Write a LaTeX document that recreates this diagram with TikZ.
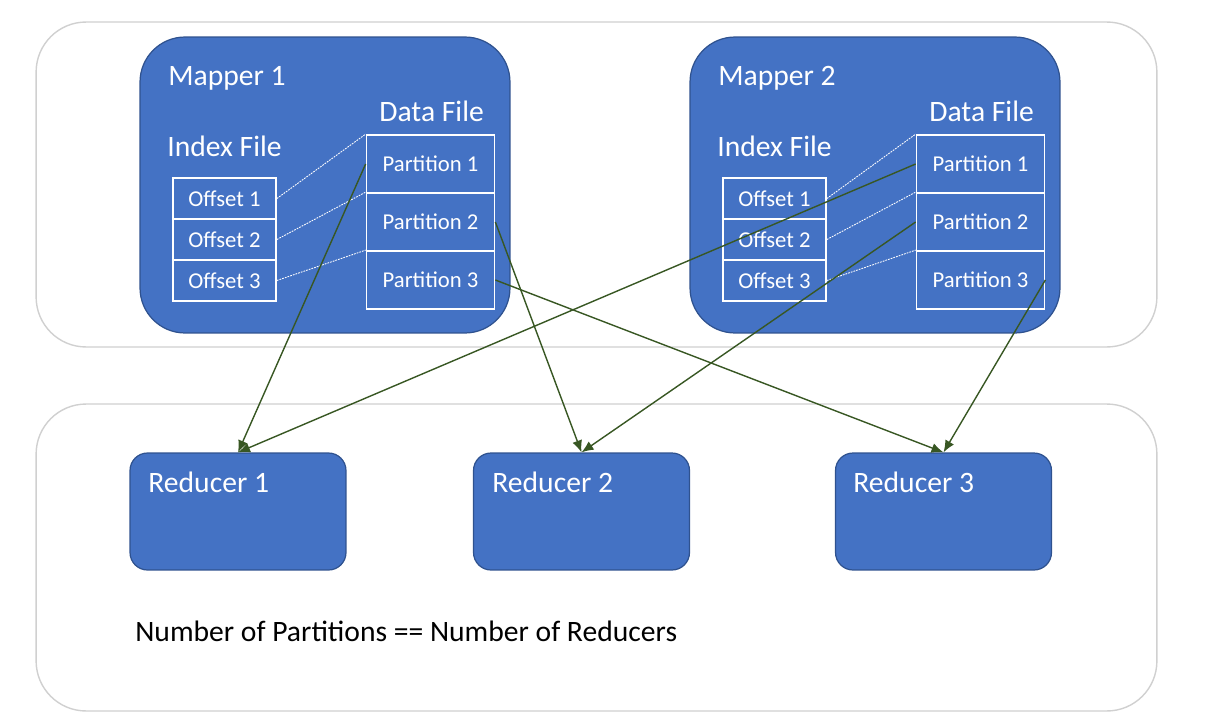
\documentclass[tikz,border=0pt]{standalone}
\usepackage{fontspec}
\setmainfont{Carlito}
\usetikzlibrary{arrows.meta}
\definecolor{boxblue}{HTML}{4472C4}
\definecolor{boxedge}{HTML}{2F528F}
\definecolor{linkgreen}{HTML}{385723}
\definecolor{framegray}{HTML}{D0D0D0}
\newcommand{\bigtext}{\fontsize{16.85}{20}\selectfont}
\newcommand{\smalltext}{\fontsize{12.9}{15}\selectfont}

\begin{document}
\begin{tikzpicture}[x=0.02cm, y=-0.02cm,
  outerbox/.style = {draw=framegray, line width=0.8pt, rounded corners=1cm, minimum width=22.42cm},
  mapper/.style = {draw=boxedge, fill=boxblue, line width=0.7pt, rounded corners=0.9cm, minimum width=7.4cm, minimum height=5.92cm},
  reducer/.style = {draw=boxedge, fill=boxblue, line width=0.7pt, rounded corners=0.35cm, minimum width=4.32cm, minimum height=2.34cm},
  offsetbox/.style = {draw=white, line width=1pt, text=white, font=\smalltext, minimum width=2.06cm, minimum height=0.82cm, inner sep=0pt},
  partbox/.style = {draw=white, line width=1pt, text=white, font=\smalltext, minimum width=2.56cm, minimum height=1.16cm, inner sep=0pt},
  boxlabel/.style = {text=white, font=\bigtext, anchor=base west, inner sep=0pt},
  indexline/.style = {draw=white, line width=0.5pt, dash pattern=on 1pt off 0.6pt},
  shuffle/.style = {draw=linkgreen, line width=0.8pt, -{Latex[length=2.4mm,width=2mm]}}]
\useasboundingbox (0,0) rectangle (1210,727);

% outer frames
\node[outerbox, minimum height=6.5cm] (maps) at (596.5,184.5) {};
\node[outerbox, minimum height=6.14cm] (reds) at (596.5,557.5) {};

% mapper 1
\node[mapper] (m1) at (325,185) {};
\node[boxlabel] (m1name) at (168,85) {Mapper 1};
\node[boxlabel] (m1index) at (167,156) {Index File};
\node[boxlabel] (m1data) at (379,121) {Data File};
\node[offsetbox] (a1) at (224.5,198.5) {Offset 1};
\node[offsetbox] (a2) at (224.5,239.5) {Offset 2};
\node[offsetbox] (a3) at (224.5,280.5) {Offset 3};
\node[partbox] (p1) at (430.5,164) {Partition 1};
\node[partbox] (p2) at (430.5,222) {Partition 2};
\node[partbox] (p3) at (430.5,280) {Partition 3};
\draw[indexline] (a1.east) -- (p1.north west);
\draw[indexline] (a2.east) -- (p2.north west);
\draw[indexline] (a3.east) -- (p3.north west);

% mapper 2
\node[mapper] (m2) at (875,185) {};
\node[boxlabel] (m2name) at (718,85) {Mapper 2};
\node[boxlabel] (m2index) at (717,156) {Index File};
\node[boxlabel] (m2data) at (929,121) {Data File};
\node[offsetbox] (b1) at (774.5,198.5) {Offset 1};
\node[offsetbox] (b2) at (774.5,239.5) {Offset 2};
\node[offsetbox] (b3) at (774.5,280.5) {Offset 3};
\node[partbox] (q1) at (980.5,164) {Partition 1};
\node[partbox] (q2) at (980.5,222) {Partition 2};
\node[partbox] (q3) at (980.5,280) {Partition 3};
\draw[indexline] (b1.east) -- (q1.north west);
\draw[indexline] (b2.east) -- (q2.north west);
\draw[indexline] (b3.east) -- (q3.north west);

% reducers
\node[reducer] (r1) at (238,511.5) {};
\node[reducer] (r2) at (581.5,511.5) {};
\node[reducer] (r3) at (943.5,511.5) {};
\node[boxlabel] (r1name) at (148,492) {Reducer 1};
\node[boxlabel] (r2name) at (492,492) {Reducer 2};
\node[boxlabel] (r3name) at (853,492) {Reducer 3};
\node[font=\bigtext, anchor=base west, inner sep=0pt] (rule) at (135,641) {Number of Partitions == Number of Reducers};

\draw[shuffle] (p1.west) -- (r1.north);
\draw[shuffle] (p2.east) -- (r2.north);
\draw[shuffle] (p3.east) -- (r3.north);
\draw[shuffle] (q1.west) -- (r1.north);
\draw[shuffle] (q2.west) -- (r2.north);
\draw[shuffle] (q3.east) -- (r3.north);
\end{tikzpicture}
\end{document}
